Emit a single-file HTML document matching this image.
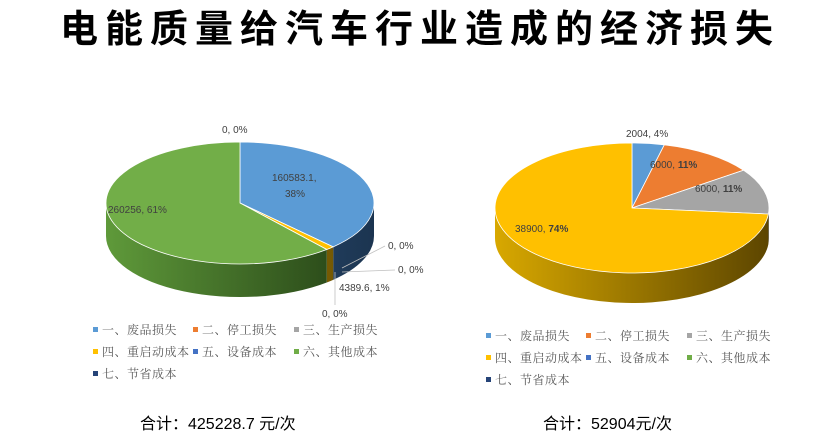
<!DOCTYPE html>
<html><head><meta charset="utf-8"><style>
body{margin:0;background:#fff;width:838px;height:436px;overflow:hidden;font-family:"Liberation Sans","Noto Sans CJK SC",sans-serif}
</style></head><body>
<svg id="s" width="838" height="436" xmlns="http://www.w3.org/2000/svg">
<defs>
<linearGradient id="gG" x1="105" x2="375" gradientUnits="userSpaceOnUse"><stop offset="0" stop-color="#5f9a3a"/><stop offset="1" stop-color="#223d14"/></linearGradient>
<linearGradient id="gB" x1="105" x2="375" gradientUnits="userSpaceOnUse"><stop offset="0" stop-color="#3b6690"/><stop offset="1" stop-color="#1b3450"/></linearGradient>
<linearGradient id="gY" x1="105" x2="375" gradientUnits="userSpaceOnUse"><stop offset="0" stop-color="#b08a10"/><stop offset="1" stop-color="#6a5000"/></linearGradient>
<linearGradient id="gY2" x1="495" x2="770" gradientUnits="userSpaceOnUse"><stop offset="0" stop-color="#d8a800"/><stop offset="1" stop-color="#5c4500"/></linearGradient>
</defs>
<text x="420" y="42" text-anchor="middle" font-size="38" font-weight="bold" letter-spacing="7" font-family="'Noto Sans CJK SC',sans-serif" fill="#000">电能质量给汽车行业造成的经济损失</text>
<g id="p1"></g><g id="p2"></g>
<g font-size="10" fill="#404040">
<text x="222" y="133">0, 0%</text>
<text x="272" y="181">160583.1,</text><text x="285" y="197">38%</text>
<text x="108" y="213">260256, 61%</text>
<text x="388" y="249">0, 0%</text>
<text x="398" y="273">0, 0%</text>
<text x="339" y="291">4389.6, 1%</text>
<text x="322" y="317">0, 0%</text>
<text x="626" y="137">2004, 4%</text>
<text x="650" y="168">6000, <tspan font-weight="bold">11%</tspan></text>
<text x="695" y="192">6000, <tspan font-weight="bold">11%</tspan></text>
<text x="515" y="232">38900, <tspan font-weight="bold">74%</tspan></text>
</g>
<g stroke="#bfbfbf" fill="none" stroke-width="0.8">
<polyline points="342,268 385,246"/>
<polyline points="342,272 395,270"/>
<polyline points="335,272 335,305"/>
</g>
<g id="leg" font-size="12" fill="#595959" font-family="'Noto Serif CJK SC',serif" letter-spacing="0.5"></g>
<text x="140" y="429" font-size="16" fill="#000">合计：425228.7 元/次</text>
<text x="543" y="429" font-size="16" fill="#000">合计：52904元/次</text>
</svg>
<script>
function pie(g,cx,cy,rx,ry,d,sl){
 var el=document.getElementById(g),h="";
 function P(t,dy){var r=t*Math.PI/180;return [cx+rx*Math.sin(r),cy-ry*Math.cos(r)+(dy||0)];}
 var a=0,segs=[];
 sl.forEach(function(s){var b=a+s[0]*360;segs.push([a,b,s[1],s[2]]);a=b;});
 segs.forEach(function(s){var a0=Math.max(s[0],90),b0=Math.min(s[1],270);if(b0>a0){
  var p=P(a0),q=P(b0),l=(b0-a0)>180?1:0;
  h+='<path fill="'+s[3]+'" d="M'+p+' A'+rx+','+ry+' 0 '+l+' 1 '+q+' L'+P(b0,d)+' A'+rx+','+ry+' 0 '+l+' 0 '+P(a0,d)+'Z"/>';}});
 segs.forEach(function(s){if(s[1]-s[0]<0.01)return;var p=P(s[0]),q=P(s[1]),l=(s[1]-s[0])>180?1:0;
  h+='<path fill="'+s[2]+'" stroke="#fff" stroke-width="0.8" d="M'+cx+','+cy+' L'+p+' A'+rx+','+ry+' 0 '+l+' 1 '+q+'Z"/>';});
 el.innerHTML=h;
}
pie("p1",240,203,134,61,33,[[0.3776,"#5b9bd5","url(#gB)"],[0.0103,"#ffc000","url(#gY)"],[0.6121,"#72ae48","url(#gG)"]]);
pie("p2",632,208,137,65,30,[[0.0379,"#5b9bd5","#3b6690"],[0.1134,"#ed7d31","#a0501a"],[0.1134,"#a5a5a5","#6e6e6e"],[0.7353,"#ffc000","url(#gY2)"]]);
var names=["一、废品损失","二、停工损失","三、生产损失","四、重启动成本","五、设备成本","六、其他成本","七、节省成本"],
cols=["#5b9bd5","#ed7d31","#a5a5a5","#ffc000","#4472c4","#70ad47","#264478"],h="";
[[93,333],[486,339]].forEach(function(o){for(var i=0;i<7;i++){var x=o[0]+[0,100,201][i%3],y=o[1]+Math.floor(i/3)*22;
 h+='<rect x="'+x+'" y="'+(y-6)+'" width="5" height="5" fill="'+cols[i]+'"/><text x="'+(x+9)+'" y="'+(y+1)+'">'+names[i]+'</text>';}});
document.getElementById("leg").innerHTML=h;
</script>
</body></html>
